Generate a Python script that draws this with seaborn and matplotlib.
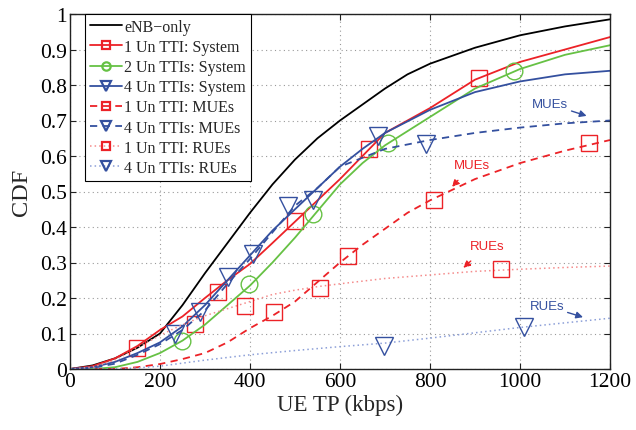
import numpy as np
import pandas as pd
import matplotlib
matplotlib.use("Agg")
import matplotlib.pyplot as plt
from matplotlib.lines import Line2D
import seaborn as sns

# ---------------- data ----------------
enb_x = [0, 50, 100, 150, 200, 250, 300, 350, 400, 450, 500, 550, 600, 650, 700, 750, 800, 900, 1000, 1100, 1200]
enb_y = [0, 0.01, 0.03, 0.06, 0.10, 0.18, 0.27, 0.355, 0.44, 0.52, 0.59, 0.65, 0.70, 0.745, 0.79, 0.83, 0.86, 0.905, 0.94, 0.965, 0.985]

sys1_x = [0, 50, 100, 150, 200, 250, 300, 350, 400, 450, 500, 550, 600, 650, 700, 750, 800, 900, 1000, 1100, 1200]
sys1_y = [0, 0.008, 0.03, 0.065, 0.11, 0.148, 0.20, 0.25, 0.296, 0.355, 0.415, 0.475, 0.535, 0.60, 0.665, 0.70, 0.735, 0.815, 0.865, 0.90, 0.935]

sys2_x = [0, 50, 100, 150, 200, 250, 300, 350, 400, 450, 500, 550, 600, 650, 700, 750, 800, 900, 1000, 1100, 1200]
sys2_y = [0, 0.0, 0.005, 0.02, 0.045, 0.08, 0.125, 0.18, 0.235, 0.30, 0.37, 0.445, 0.52, 0.58, 0.63, 0.67, 0.71, 0.79, 0.845, 0.885, 0.912]

sys4_x = [0, 50, 100, 150, 200, 250, 300, 350, 400, 450, 500, 550, 600, 650, 700, 800, 900, 1000, 1100, 1200]
sys4_y = [0, 0.005, 0.02, 0.045, 0.075, 0.12, 0.18, 0.25, 0.32, 0.39, 0.45, 0.51, 0.57, 0.62, 0.665, 0.73, 0.78, 0.81, 0.83, 0.84]

mue1_x = [0, 100, 150, 200, 250, 300, 350, 400, 450, 500, 550, 600, 650, 700, 750, 800, 850, 900, 1000, 1100, 1200]
mue1_y = [0, 0, 0.005, 0.014, 0.028, 0.045, 0.075, 0.115, 0.15, 0.19, 0.245, 0.30, 0.35, 0.395, 0.44, 0.475, 0.505, 0.535, 0.58, 0.615, 0.645]

mue4_x = [0, 50, 100, 150, 200, 250, 300, 350, 400, 450, 500, 550, 600, 700, 800, 900, 1000, 1100, 1200]
mue4_y = [0, 0.003, 0.015, 0.04, 0.07, 0.11, 0.165, 0.24, 0.31, 0.385, 0.46, 0.51, 0.57, 0.62, 0.645, 0.665, 0.68, 0.692, 0.70]

rue1_x = [0, 50, 100, 150, 200, 250, 300, 350, 400, 450, 500, 550, 600, 700, 800, 900, 1000, 1100, 1200]
rue1_y = [0, 0.005, 0.025, 0.06, 0.095, 0.125, 0.15, 0.17, 0.19, 0.21, 0.222, 0.232, 0.24, 0.255, 0.265, 0.275, 0.281, 0.286, 0.29]

rue4_x = [0, 100, 150, 200, 300, 400, 500, 600, 700, 800, 900, 1000, 1100, 1200]
rue4_y = [0, 0, 0.003, 0.008, 0.025, 0.04, 0.052, 0.063, 0.073, 0.087, 0.102, 0.117, 0.13, 0.143]

# marker positions
sys1_mx = [149, 278, 329, 500, 664, 909]
sys1_my = [0.059, 0.127, 0.218, 0.418, 0.62, 0.82]
sys2_mx = [249, 398, 541, 707, 987]
sys2_my = [0.08, 0.24, 0.437, 0.637, 0.839]
sys4_mx = [233, 351, 485, 685]
sys4_my = [0.099, 0.26, 0.46, 0.657]
mue1_mx = [453, 618, 809, 1153]
mue1_my = [0.16, 0.318, 0.477, 0.637]
mue4_mx = [289, 407, 541, 791]
mue4_my = [0.16, 0.324, 0.477, 0.634]
rue1_mx = [389, 556, 958]
rue1_my = [0.178, 0.228, 0.282]
rue4_mx = [698, 1009]
rue4_my = [0.065, 0.118]

legend_labels = ["eNB\u2212only", "1 Un TTI: System", "2 Un TTIs: System", "4 Un TTIs: System",
                 "1 Un TTI: MUEs", "4 Un TTIs: MUEs", "1 Un TTI: RUEs", "4 Un TTIs: RUEs"]

x_ticks = [0, 200, 400, 600, 800, 1000, 1200]
y_ticks = [0, 0.1, 0.2, 0.3, 0.4, 0.5, 0.6, 0.7, 0.8, 0.9, 1]
y_tick_labels = ["0", "0.1", "0.2", "0.3", "0.4", "0.5", "0.6", "0.7", "0.8", "0.9", "1"]

# ---------------- style ----------------
sns.set_style("ticks")
plt.rcParams["font.family"] = ["Liberation Serif", "DejaVu Serif"]

RED = "#EC2227"
GREEN = "#66C144"
BLUE = "#34509F"
RED_L = "#F58C8C"
BLUE_L = "#8C9FD8"

fig = plt.figure(figsize=(6.36, 4.31), dpi=100)
ax = fig.add_axes([70 / 636, 61 / 431, 540 / 636, 355 / 431])

series = [
    (enb_x, enb_y, "black", "-", 1.3, None, None, None, None),
    (sys1_x, sys1_y, RED, "-", 1.3, sys1_mx, sys1_my, "s", 11),
    (sys2_x, sys2_y, GREEN, "-", 1.3, sys2_mx, sys2_my, "o", 12),
    (sys4_x, sys4_y, BLUE, "-", 1.3, sys4_mx, sys4_my, "v", 13),
    (mue1_x, mue1_y, RED, (0, (4, 3)), 1.3, mue1_mx, mue1_my, "s", 11),
    (mue4_x, mue4_y, BLUE, (0, (4, 3)), 1.3, mue4_mx, mue4_my, "v", 13),
    (rue1_x, rue1_y, RED_L, (0, (1, 2)), 1.1, rue1_mx, rue1_my, "s", 11),
    (rue4_x, rue4_y, BLUE_L, (0, (1, 2)), 1.1, rue4_mx, rue4_my, "v", 13),
]

handles = []
for (xs, ys, c, ls, lw, mx, my, mk, ms), lab in zip(series, legend_labels):
    df = pd.DataFrame({"x": xs, "y": ys})
    sns.lineplot(data=df, x="x", y="y", ax=ax, color=c, linestyle=ls, linewidth=lw, sort=False)
    mcol = c
    if mx is not None:
        if c == RED_L:
            mcol = RED
        if c == BLUE_L:
            mcol = BLUE
        mdf = pd.DataFrame({"x": mx, "y": my})
        sns.lineplot(data=mdf, x="x", y="y", ax=ax, color=mcol, linestyle="none",
                     marker=mk, markersize=ms, markerfacecolor="none",
                     markeredgecolor=mcol, markeredgewidth=1.0, sort=False)
    handles.append(Line2D([0], [0], color=c, linestyle=ls, linewidth=lw,
                          marker=mk if mk else None, markersize=6 if mk != "v" else 7,
                          markerfacecolor="none", markeredgecolor=mcol, markeredgewidth=1.6))

ax.set_xlim(0, 1200)
ax.set_ylim(0, 1)
ax.set_xticks(x_ticks)
ax.set_yticks(y_ticks)
ax.set_yticklabels(y_tick_labels)
ax.tick_params(axis="both", direction="in", labelsize=15.5, top=True, right=True,
               length=4, width=0.8, pad=2, colors="#222222")
for lab in ax.get_xticklabels() + ax.get_yticklabels():
    lab.set_color("black")
ax.grid(True, linestyle=(0, (1, 3)), color="#999999", linewidth=0.8)
for sp in ax.spines.values():
    sp.set_visible(True)
    sp.set_linewidth(1.0)
    sp.set_color("#222222")
ax.set_xlabel("UE TP (kbps)", fontsize=16.5, labelpad=2)
ax.set_ylabel("CDF", fontsize=17.5, labelpad=6)

leg = ax.legend(handles, legend_labels, loc="upper left",
                bbox_to_anchor=(85 / 636, 1 - 15 / 431), bbox_transform=fig.transFigure,
                borderaxespad=0, fontsize=11.5, handlelength=2.0, handletextpad=0.15,
                labelspacing=0.26, borderpad=0.3, fancybox=False, framealpha=1,
                edgecolor="black", numpoints=1)
leg.get_frame().set_linewidth(0.8)

ann_font = dict(family=["Liberation Sans", "DejaVu Sans"], fontsize=9.5)
ax.annotate("MUEs", xy=(1148, 0.713), xytext=(1067, 0.746), color=BLUE, ha="center", va="center",
            arrowprops=dict(arrowstyle="-|>", color=BLUE, lw=1.0, shrinkA=12, shrinkB=0,
                            mutation_scale=10), **ann_font)
ax.annotate("MUEs", xy=(849, 0.513), xytext=(893, 0.575), color=RED, ha="center", va="center",
            arrowprops=dict(arrowstyle="-|>", color=RED, lw=1.0, linestyle=(0, (2, 1)),
                            shrinkA=6, shrinkB=0, mutation_scale=10), **ann_font)
ax.annotate("RUEs", xy=(874, 0.285), xytext=(927, 0.346), color=RED, ha="center", va="center",
            arrowprops=dict(arrowstyle="-|>", color=RED, lw=1.0, linestyle=(0, (2, 1)),
                            shrinkA=6, shrinkB=0, mutation_scale=10), **ann_font)
ax.annotate("RUEs", xy=(1140, 0.146), xytext=(1060, 0.177), color=BLUE, ha="center", va="center",
            arrowprops=dict(arrowstyle="-|>", color=BLUE, lw=1.0, shrinkA=12, shrinkB=0,
                            mutation_scale=10), **ann_font)

fig.savefig("out.png", dpi=100)
